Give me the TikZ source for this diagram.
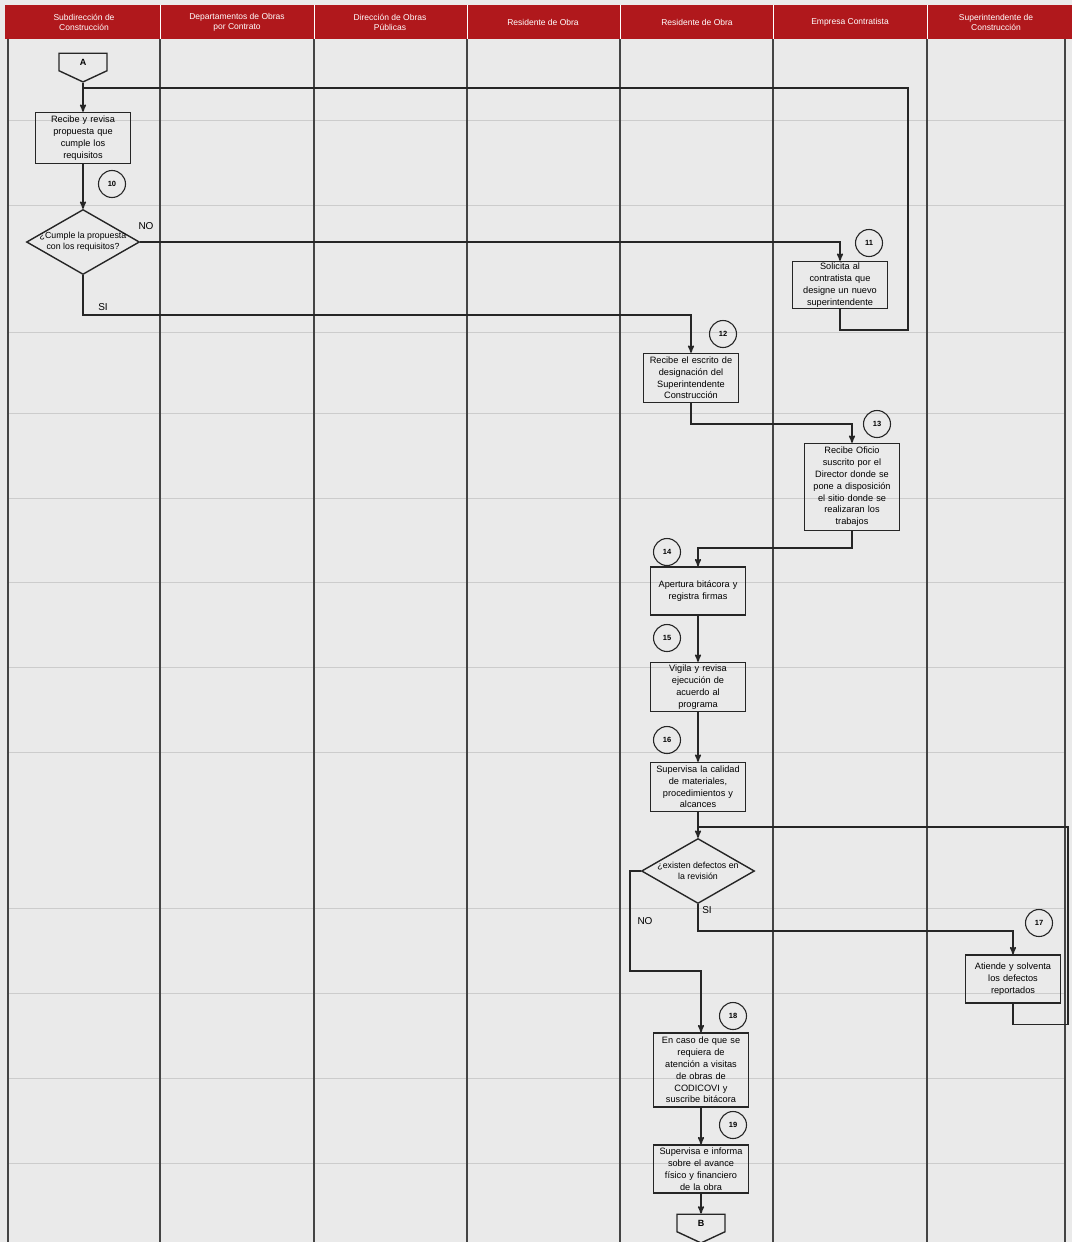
\documentclass[tikz,border=0pt]{standalone}
\usepackage{fontspec}
\setmainfont{Liberation Sans}
\usepackage{tikz}
\usetikzlibrary{arrows,shapes.geometric,shapes.symbols}
\definecolor{headred}{HTML}{B0181C}
\definecolor{paper}{HTML}{EAEAEA}
\definecolor{laneline}{HTML}{444444}
\tikzset{
  lane line/.style={draw=laneline,line width=1.3pt},
  grid line/.style={draw=black!20,line width=0.6pt},
  lane title/.style={text=white,align=center,font=\fontsize{8.5}{10}\selectfont},
}

\begin{document}
\begin{tikzpicture}[x=1pt,y=-1pt,>=stealth',
  proc/.style={rectangle,draw=black!85,line width=1.4pt,text width=94pt,inner sep=0.5pt,align=center,font=\fontsize{9.2}{11.8}\selectfont},
  decision/.style={diamond,draw=black!85,line width=1.4pt,minimum width=113pt,minimum height=65pt,inner sep=0pt},
  offpage/.style={signal,signal to=south,signal pointer angle=130,draw=black!85,line width=1.4pt,minimum width=48pt,minimum height=19pt,inner sep=0pt,font=\fontsize{9}{10}\bfseries},
  stepnum/.style={circle,draw=black!85,line width=1.1pt,minimum size=27pt,inner sep=0pt,font=\fontsize{7.5}{8}\bfseries},
  answer/.style={font=\fontsize{10}{11}\selectfont},
  flow/.style={draw=black!85,line width=1.5pt}]

  % page and lanes
  \useasboundingbox (0,0) rectangle (1072,1242);
  \fill[paper] (0,0) rectangle (1072,1242);
  \foreach \gy in {120,205,332,413,498,582,667,752,908,993,1078,1163}
    \draw[grid line] (8,\gy) -- (1065,\gy);
  \fill[headred] (5,5) rectangle (1072,39);
  \foreach \lx in {160,314,467,620,773,927}
    \draw[white,line width=1pt] (\lx,5) -- (\lx,39);
  \foreach \lx in {8,160,314,467,620,773,927,1065}
    \draw[lane line] (\lx,39) -- (\lx,1242);

  \node[lane title] (h1) at (84,22) {Subdirección de\\Construcción};
  \node[lane title] (h2) at (237,22) {Departamentos de Obras\\por Contrato};
  \node[lane title] (h3) at (390,22) {Dirección de Obras\\Públicas};
  \node[lane title] (h4) at (543,22) {Residente de Obra};
  \node[lane title] (h5) at (697,22) {Residente de Obra};
  \node[lane title] (h6) at (850,22) {Empresa Contratista};
  \node[lane title] (h7) at (996,22) {Superintendente de\\Construcción};

  % steps
  \node[offpage] (A) at (83,62) {A};
  \node[proc,minimum height=51pt] (b1) at (83,138) {Recibe y revisa\\propuesta que\\cumple los\\requisitos};
  \node[decision,label={[align=center,font=\fontsize{8.8}{11}\selectfont]center:{¿Cumple la propuesta\\con los requisitos?}}] (d1) at (83,242) {};
  \node[proc,minimum height=47pt] (b11) at (840,285) {Solicita al\\contratista que\\designe un nuevo\\superintendente};
  \node[proc,minimum height=49pt] (b12) at (691,378) {Recibe el escrito de\\designación del\\Superintendente\\Construcción};
  \node[proc,minimum height=87pt] (b13) at (852,487) {Recibe Oficio\\suscrito por el\\Director donde se\\pone a disposición\\el sitio donde se\\realizaran los\\trabajos};
  \node[proc,minimum height=48pt] (b14) at (698,591) {Apertura bitácora y\\registra firmas};
  \node[proc,minimum height=49pt] (b15) at (698,687) {Vigila y revisa\\ejecución de\\acuerdo al\\programa};
  \node[proc,minimum height=49pt] (b16) at (698,787) {Supervisa la calidad\\de materiales,\\procedimientos y\\alcances};
  \node[decision,label={[align=center,font=\fontsize{8.8}{11}\selectfont]center:{¿existen defectos en\\la revisión}}] (d2) at (698,871) {};
  \node[proc,minimum height=48pt] (b17) at (1013,979) {Atiende y solventa\\los defectos\\reportados};
  \node[proc,minimum height=74pt] (b18) at (701,1070) {En caso de que se\\requiera de\\atención a visitas\\de obras de\\CODICOVI y\\suscribe bitácora};
  \node[proc,minimum height=48pt] (b19) at (701,1169) {Supervisa e informa\\sobre el avance\\físico y financiero\\de la obra};
  \node[offpage] (B) at (701,1223) {B};

  % step numbers
  \node[stepnum] (n10) at (112,184) {10};
  \node[stepnum] (n11) at (869,243) {11};
  \node[stepnum] (n12) at (723,334) {12};
  \node[stepnum] (n13) at (877,424) {13};
  \node[stepnum] (n14) at (667,552) {14};
  \node[stepnum] (n15) at (667,638) {15};
  \node[stepnum] (n16) at (667,740) {16};
  \node[stepnum] (n17) at (1039,923) {17};
  \node[stepnum] (n18) at (733,1016) {18};
  \node[stepnum] (n19) at (733,1125) {19};

  % answers
  \node[answer] (no1) at (146,226) {NO};
  \node[answer] (si1) at (103,307) {SI};
  \node[answer] (si2) at (707,910) {SI};
  \node[answer] (no2) at (645,921) {NO};

  % junctions of the return lines
  \coordinate (jA) at (83,88);
  \coordinate (j16) at (698,827);

  % connectors
  \draw[flow,->] (A.south) -- (b1.north);
  \draw[flow,->] (b1.south) -- (d1.north);
  \draw[flow,->] (d1.east) -| (b11.north);
  \draw[flow] (b11.south) -- ++(0,21) -| (908,88) -- (jA);
  \draw[flow,->] (d1.south) -- ++(0,40) -| (b12.north);
  \draw[flow,->] (b12.south) -- ++(0,21) -| (b13.north);
  \draw[flow,->] (b13.south) -- ++(0,17) -| (b14.north);
  \draw[flow,->] (b14.south) -- (b15.north);
  \draw[flow,->] (b15.south) -- (b16.north);
  \draw[flow,->] (b16.south) -- (d2.north);
  \draw[flow,->] (d2.south) -- ++(0,27) -| (b17.north);
  \draw[flow] (b17.south) -- ++(0,21) -| (1068,827) -- (j16);
  \draw[flow,->] (d2.west) -- ++(-11,0) -- ++(0,100) -| (b18.north);
  \draw[flow,->] (b18.south) -- (b19.north);
  \draw[flow,->] (b19.south) -- (B.north);
\end{tikzpicture}
\end{document}
